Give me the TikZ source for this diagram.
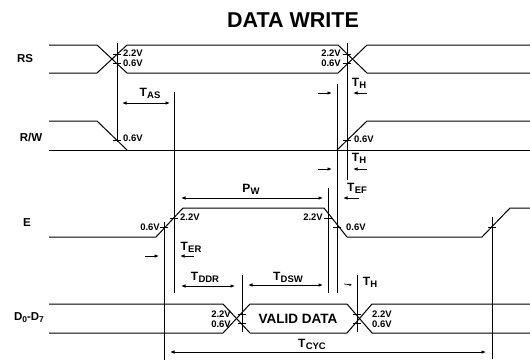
\documentclass[tikz,border=0pt]{standalone}
\usepackage{fontspec}
\setmainfont{Liberation Sans}
\usetikzlibrary{arrows.meta}
\newcommand{\Tsb}[2]{#1\kern0.3pt\raisebox{-2.6pt}{\fontsize{9.5}{10}\selectfont #2}}
\begin{document}
\begin{tikzpicture}[x=1pt,y=-1pt,
  wave/.style={line width=1pt},
  refl/.style={line width=1pt},
  tick/.style={line width=0.8pt},
  dimA/.style={line width=1pt,{Latex[length=4.5pt,width=3.6pt]}-{Latex[length=4.5pt,width=3.6pt]}},
  arrR/.style={line width=1pt,-{Latex[length=4.5pt,width=3.6pt]}},
  sig/.style={font=\fontsize{11.5}{12}\selectfont\bfseries,inner sep=0pt,anchor=base},
  volt/.style={font=\fontsize{9.5}{10}\selectfont\bfseries,inner sep=0pt},
  tlab/.style={font=\fontsize{12}{13}\selectfont\bfseries,inner sep=0pt,anchor=base},
]
\useasboundingbox (0,0) rectangle (530,360);

% title
\node[font=\fontsize{21.5}{23}\selectfont\bfseries,inner sep=0pt] (title) at (293,20) {DATA WRITE};

% signal names
\node[sig] (lRS) at (25,62.5) {RS};
\node[sig] (lRW) at (31,141) {R/W};
\node[sig] (lE) at (27,226) {E};
\node[sig] (lD) at (29,320) {D\raisebox{-2.4pt}{\fontsize{8.5}{9}\selectfont 0}-D\raisebox{-2.4pt}{\fontsize{8.5}{9}\selectfont 7}};

% waveforms
% RS
\draw[wave] (49,45) -- (97,45) -- (127,73) -- (338,73) -- (367,45) -- (530,45);
\draw[wave] (49,73) -- (97,73) -- (127,45) -- (338,45) -- (367,73) -- (530,73);
% R/W
\draw[wave] (49,121) -- (97,121) -- (127,150);
\draw[wave] (49,150) -- (530,150);
\draw[wave] (337,150) -- (367,121) -- (530,121);
% E
\draw[wave] (49,237) -- (156,237) -- (183,208) -- (324,208) -- (347,237) -- (482,237) -- (510,208) -- (530,208);
% D0-D7
\draw[wave] (49,304) -- (223,304) -- (250,333) -- (347,333) -- (372,304) -- (530,304);
\draw[wave] (49,333) -- (223,333) -- (250,304) -- (347,304) -- (372,333) -- (530,333);
\node[font=\fontsize{13.5}{14}\selectfont\bfseries,inner sep=0pt] (valid) at (298,319) {VALID DATA};

% reference lines
\draw[refl] (117,43) -- (117,142);
\draw[refl] (174,92) -- (174,293);
\draw[refl] (164,222) -- (164,360);
\draw[refl] (337,84) -- (337,293);
\draw[refl] (347,43) -- (347,180);
\draw[refl] (328,188) -- (328,293);
\draw[refl] (242,275) -- (242,332);
\draw[refl] (357,275) -- (357,332);
\draw[refl] (492,217) -- (492,359);

% ticks
\foreach \x/\y in {117/54,117/63,117/140,347/54,347/63,347/140,174/218,164/227,328/218,337/227,242/314,242/323,357/314,357/323,492/227}
  \draw[tick] (\x-4,\y) -- (\x+4,\y);

% voltage labels
\node[volt,anchor=mid west] (v1) at (123,54) {2.2V};
\node[volt,anchor=mid west] (v2) at (123,64) {0.6V};
\node[volt,anchor=mid east] (v3) at (341,54) {2.2V};
\node[volt,anchor=mid east] (v4) at (341,64) {0.6V};
\node[volt,anchor=mid west] (v5) at (123,138.5) {0.6V};
\node[volt,anchor=mid west] (v6) at (354,139.5) {0.6V};
\node[volt,anchor=mid east] (v7) at (160,228) {0.6V};
\node[volt,anchor=mid west] (v8) at (180,218) {2.2V};
\node[volt,anchor=mid east] (v9) at (323,218) {2.2V};
\node[volt,anchor=mid west] (v10) at (346,228) {0.6V};
\node[volt,anchor=mid east] (v11) at (231,315) {2.2V};
\node[volt,anchor=mid east] (v12) at (231,325) {0.6V};
\node[volt,anchor=mid west] (v13) at (372,315) {2.2V};
\node[volt,anchor=mid west] (v14) at (372,325) {0.6V};

% timing labels
\node[tlab] (tas) at (150,96) {\Tsb{T}{AS}};
\node[tlab] (th1) at (359,86) {\Tsb{T}{H}};
\node[tlab] (th2) at (359,161) {\Tsb{T}{H}};
\node[tlab] (tef) at (357,191) {\Tsb{T}{EF}};
\node[tlab] (pw) at (251,192) {\Tsb{P}{W}};
\node[tlab] (ter) at (191,250) {\Tsb{T}{ER}};
\node[tlab] (tddr) at (205,280) {\Tsb{T}{DDR}};
\node[tlab] (tdsw) at (288,280) {\Tsb{T}{DSW}};
\node[tlab] (th3) at (370,285) {\Tsb{T}{H}};
\node[tlab] (tcyc) at (312,347) {\Tsb{T}{CYC}};

% dimension arrows
\coordinate (asA) at (122,103); \coordinate (asB) at (170,103);
\draw[dimA] (asA) -- (asB);
\coordinate (h1a) at (318,93); \coordinate (h1b) at (332,93);
\coordinate (h1c) at (367,93); \coordinate (h1d) at (353,93);
\draw[arrR] (h1a) -- (h1b);
\draw[arrR] (h1c) -- (h1d);
\coordinate (h2a) at (318,169); \coordinate (h2b) at (332,169);
\coordinate (h2c) at (367,169); \coordinate (h2d) at (353,169);
\draw[arrR] (h2a) -- (h2b);
\draw[arrR] (h2c) -- (h2d);
\coordinate (pwA) at (181,198); \coordinate (pwB) at (323,198);
\draw[dimA] (pwA) -- (pwB);
\coordinate (efA) at (359,198); \coordinate (efB) at (343,198);
\draw[arrR] (efA) -- (efB);
\coordinate (erA) at (145,256); \coordinate (erB) at (159,256);
\coordinate (erC) at (194,256); \coordinate (erD) at (180,256);
\draw[arrR] (erA) -- (erB);
\draw[arrR] (erC) -- (erD);
\coordinate (ddrA) at (181,286); \coordinate (ddrB) at (235,286);
\draw[dimA] (ddrA) -- (ddrB);
\coordinate (dswA) at (248,285); \coordinate (dswB) at (323,285);
\draw[dimA] (dswA) -- (dswB);
\coordinate (h3a) at (344,284); \coordinate (h3b) at (352,285);
\draw[line width=0.7pt,-{Latex[length=2.5pt,width=2.5pt]}] (h3a) -- (h3b);
\coordinate (cycA) at (170,352); \coordinate (cycB) at (486,352);
\draw[dimA] (cycA) -- (cycB);
\end{tikzpicture}
\end{document}
